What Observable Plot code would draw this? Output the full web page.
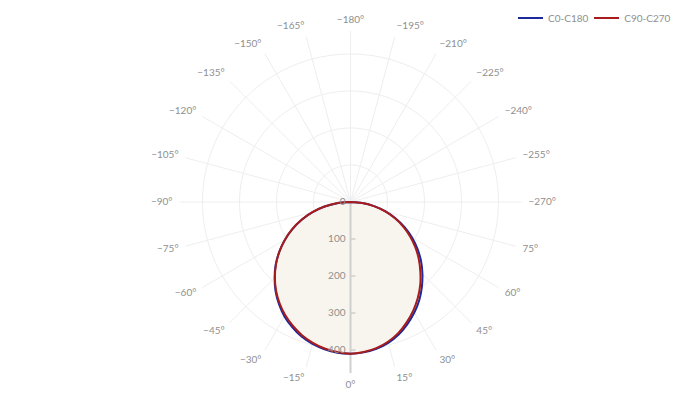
<!DOCTYPE html>
<html>
<head>
<meta charset="utf-8">
<script src="https://cdn.jsdelivr.net/npm/d3@7"></script>
<script src="https://cdn.jsdelivr.net/npm/@observablehq/plot@0.6"></script>
<style>
  html, body { margin: 0; padding: 0; background: #fff; }
  #wrap { position: relative; width: 700px; height: 404px; font-family: Lato, "Open Sans", sans-serif; }
  #legend { position: absolute; top: 12px; left: 518px; display: flex; align-items: center; font-size: 10px; color: #8f8f8f; }
  .item { display: flex; align-items: center; margin-right: 6px; }
  .swatch { width: 25px; height: 2px; margin-right: 5px; }
</style>
</head>
<body>
<div id="wrap">
  <div id="chart"></div>
  <div id="legend"></div>
</div>
<script>
// Gamma angles (degrees, 0 = straight down, positive to the right)
const gammaAngles = [-90,-85,-80,-75,-70,-65,-60,-55,-50,-45,-40,-35,-30,-25,-20,-15,-10,-5,0,5,10,15,20,25,30,35,40,45,50,55,60,65,70,75,80,85,90];
// Luminous intensity, C0-C180 plane
const c0c180 = [0,36,71,106,140,173,205,235,264,290,315,337,357,373,387,397,404,409,410,408,403,394,381,364,345,324,300,275,249,221,192,162,130,98,65,32,0];
// Luminous intensity, C90-C270 plane
const c90c270 = [0,38,73,108,141,174,205,235,263,289,313,334,353,369,383,394,402,407,410,407,401,391,377,359,339,317,293,267,241,214,186,157,127,96,64,32,0];

const seriesNames = ["C0-C180", "C90-C270"];
const seriesColors = ["#1c2a9c", "#a81c1c"];
const radialTicks = [0, 100, 200, 300, 400];
const angularTicks = [-270,-255,-240,-225,-210,-195,-180,-165,-150,-135,-120,-105,-90,-75,-60,-45,-30,-15,0,15,30,45,60,75];

// --- layout helpers
const W = 700, H = 404;
const cx = 350, cy = 201.5;       // pixel centre of the polar plot
const k = 0.37;                   // pixels per unit of intensity
const px = p => p / k;            // pixel distance -> data units
const rad = a => a * Math.PI / 180;
const X = (r, a) => r * Math.sin(rad(a));
const Y = (r, a) => -r * Math.cos(rad(a));

const rows = [];
seriesNames.forEach((name, si) => {
  const vals = si === 0 ? c0c180 : c90c270;
  gammaAngles.forEach((a, i) => rows.push({series: name, angle: a, value: vals[i], x: X(vals[i], a), y: Y(vals[i], a)}));
});

const ringRows = [];
radialTicks.filter(r => r > 0).forEach(r => {
  for (let a = 0; a <= 360; a += 3) ringRows.push({ring: r, x: X(r, a), y: Y(r, a)});
});

const spokeLen = px(171);
const spokes = angularTicks.map(a => ({x1: 0, y1: 0, x2: X(spokeLen, a), y2: Y(spokeLen, a)}));

const labR = px(178);
const fmtAngle = a => (a < 0 ? "\u2212" + Math.abs(a) : String(a)) + "\u00b0";
const angLabels = angularTicks.map(a => {
  const s = Math.sin(rad(a)), c = Math.cos(rad(a));
  const extra = px(4.5) * Math.abs(c);
  return {
    text: fmtAngle(a),
    x: X(labR, a),
    y: Y(labR, a) + (c > 0 ? -extra : extra),
    side: Math.abs(s) < 0.05 ? "middle" : (s > 0 ? "start" : "end")
  };
});

const axisLen = px(171);
const txtFill = "#8f8f8f";

const chart = Plot.plot({
  width: W, height: H, margin: 0,
  style: {fontFamily: "Lato, 'Open Sans', sans-serif", background: "transparent"},
  x: {domain: [px(-cx), px(W - cx)], range: [0, W], axis: null},
  y: {domain: [px(-(H - cy)), px(cy)], range: [H, 0], axis: null},
  marks: [
    Plot.line(ringRows, {x: "x", y: "y", z: "ring", stroke: "#eeeeee", strokeWidth: 1}),
    Plot.link(spokes, {x1: "x1", y1: "y1", x2: "x2", y2: "y2", stroke: "#eeeeee", strokeWidth: 1}),
    Plot.line(rows.filter(d => d.series === "C0-C180"), {x: "x", y: "y", fill: "#f8f5ee", stroke: "none", curve: "catmull-rom"}),
    Plot.link([{y2: -axisLen}], {x1: 0, y1: 0, x2: 0, y2: "y2", stroke: "#cfcfcf", strokeWidth: 2}),
    Plot.link(radialTicks.filter(r => r > 0), {x1: 0, x2: px(5), y1: r => -r, y2: r => -r, stroke: "#cfcfcf", strokeWidth: 1.5}),
    Plot.line(rows, {x: "x", y: "y", z: "series", stroke: d => seriesColors[seriesNames.indexOf(d.series)], strokeWidth: 2, curve: "catmull-rom"}),
    Plot.text(radialTicks, {x: px(-5), y: r => -r, text: r => String(r), textAnchor: "end", fill: txtFill, fontSize: 10}),
    Plot.text(angLabels.filter(d => d.side === "start"), {x: "x", y: "y", text: "text", textAnchor: "start", fill: txtFill, fontSize: 10}),
    Plot.text(angLabels.filter(d => d.side === "end"), {x: "x", y: "y", text: "text", textAnchor: "end", fill: txtFill, fontSize: 10}),
    Plot.text(angLabels.filter(d => d.side === "middle"), {x: "x", y: "y", text: "text", textAnchor: "middle", fill: txtFill, fontSize: 10})
  ]
});
document.getElementById("chart").appendChild(chart);

const legend = document.getElementById("legend");
seriesNames.forEach((n, i) => {
  const it = document.createElement("div");
  it.className = "item";
  it.innerHTML = `<div class="swatch" style="background:${seriesColors[i]}"></div><span>${n}</span>`;
  legend.appendChild(it);
});
</script>
</body>
</html>
